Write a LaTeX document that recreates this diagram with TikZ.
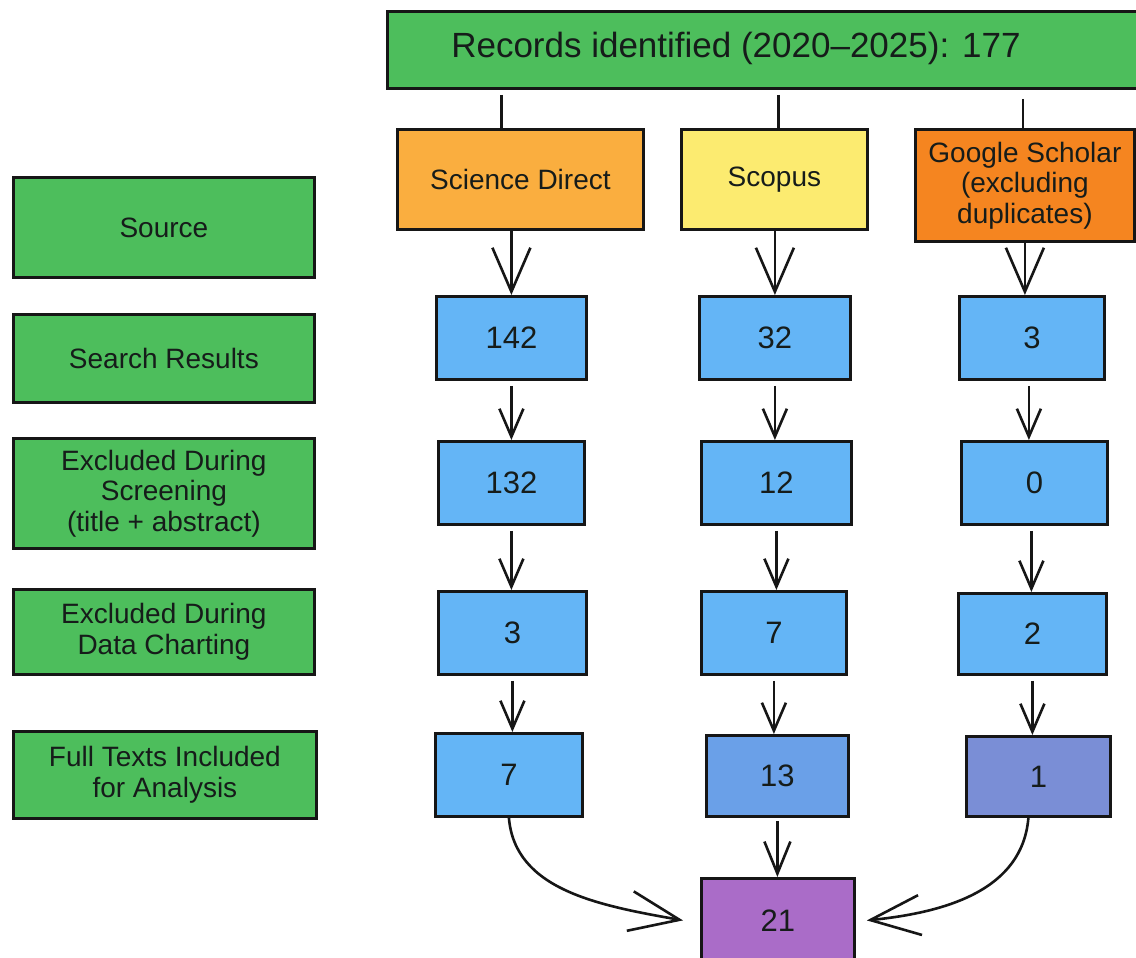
\documentclass[tikz,border=0pt]{standalone}
\usepackage{fontspec}
\setmainfont{Liberation Sans}
\usetikzlibrary{arrows.meta,calc}
\definecolor{gbox}{RGB}{77,190,92}
\definecolor{sdc}{RGB}{250,174,63}
\definecolor{scc}{RGB}{252,235,112}
\definecolor{gsc}{RGB}{245,133,32}
\definecolor{bl}{RGB}{100,181,246}
\definecolor{blb}{RGB}{106,160,232}
\definecolor{blc}{RGB}{122,142,214}
\definecolor{pur}{RGB}{170,108,200}
\definecolor{edge}{RGB}{22,22,22}
\definecolor{txt}{RGB}{22,28,26}
\begin{document}
\begin{tikzpicture}[x=1pt,y=-1pt,
  box/.style={draw=edge, line width=2.8pt, inner sep=0pt, anchor=north west,
    align=center, text=txt, font=\fontsize{28}{30.5}\selectfont},
  lab/.style={box, fill=gbox},
  num/.style={box, fill=bl, font=\fontsize{31}{34}\selectfont},
  conn/.style={line width=2.6pt, draw=edge},
  arr/.style={conn, shorten <=5pt, -{Straight Barb[length=28pt,width=24pt]}},
  bigarr/.style={conn, -{Straight Barb[length=44pt,width=38pt]}},
  hugearr/.style={conn, -{Straight Barb[length=50pt,width=40pt]}},
]
\useasboundingbox (0,0) rectangle (1136,958);
\fill[white] (0,0) rectangle (1136,958);

% top box
\node[lab, minimum width=760pt, minimum height=77pt] (top) at (386,10) {};
\node[text=txt, font=\fontsize{35}{38}\selectfont] (toplab) at (736,48) {Records identified (2020–2025): 177};

% sources
\node[box, fill=sdc, minimum width=246pt, minimum height=100pt] (sd) at (396,128) {Science Direct};
\node[box, fill=scc, minimum width=186pt, minimum height=100pt] (sc) at (680,128) {Scopus};
\node[box, fill=gsc, minimum width=219pt, minimum height=112pt] (gs) at (914,128) {Google Scholar\\(excluding\\duplicates)};

% left labels
\node[lab, minimum width=301pt, minimum height=100pt] (l1) at (12,176) {Source};
\node[lab, minimum width=301pt, minimum height=88pt] (l2) at (12,313) {Search Results};
\node[lab, minimum width=301pt, minimum height=110pt] (l3) at (12,437) {Excluded During\\Screening\\(title + abstract)};
\node[lab, minimum width=301pt, minimum height=85pt] (l4) at (12,588) {Excluded During\\Data Charting};
\node[lab, minimum width=303pt, minimum height=87pt] (l5) at (12,730) {Full Texts Included\\for Analysis};

% number boxes
\node[num, minimum width=150pt, minimum height=83pt] (a1) at (435,295) {142};
\node[num, minimum width=151pt, minimum height=83pt] (b1) at (698,295) {32};
\node[num, minimum width=145pt, minimum height=83pt] (c1) at (958,295) {3};
\node[num, minimum width=146pt, minimum height=83pt] (a2) at (437,440) {132};
\node[num, minimum width=150pt, minimum height=83pt] (b2) at (700,440) {12};
\node[num, minimum width=146pt, minimum height=83pt] (c2) at (960,440) {0};
\node[num, minimum width=148pt, minimum height=83pt] (a3) at (437,590) {3};
\node[num, minimum width=145pt, minimum height=83pt] (b3) at (700,590) {7};
\node[num, minimum width=148pt, minimum height=81pt] (c3) at (957,592) {2};
\node[num, minimum width=147pt, minimum height=83pt] (a4) at (434,732) {7};
\node[num, fill=blb, minimum width=142pt, minimum height=81pt] (b4) at (705,734) {13};
\node[num, fill=blc, minimum width=144pt, minimum height=80pt] (c4) at (965,735) {1};
\node[num, fill=pur, minimum width=153pt, minimum height=84pt] (f) at (700,877) {21};

% top lines
\draw[conn] ([xshift=-19pt,yshift=-5pt]top.south -| sd.north) -- ([xshift=-19pt]sd.north);
\draw[conn] ([xshift=4pt,yshift=-5pt]top.south -| sc.north) -- ([xshift=4pt]sc.north);
\draw[conn] ([xshift=-2pt,yshift=-9pt]top.south -| gs.north) -- ([xshift=-2pt]gs.north);

% source to search results
\draw[bigarr] (sd.south -| a1.north) -- (a1.north);
\draw[bigarr] (sc.south -| b1.north) -- (b1.north);
\draw[bigarr] (gs.south) -- (gs.south |- c1.north);

% column arrows
\draw[arr] (a1.south) -- (a1.south |- a2.north);
\draw[arr] (a2.south) -- (a2.south |- a3.north);
\draw[arr] (a3.south) -- (a3.south |- a4.north);
\draw[arr] (b1.south) -- (b1.south |- b2.north);
\draw[arr] (b2.south) -- (b2.south |- b3.north);
\draw[arr] (b3.south) -- (b3.south |- b4.north);
\draw[arr] ([xshift=-3pt]c1.south) -- ([xshift=-3pt]c1.south |- c2.north);
\draw[arr] ([xshift=-3pt]c2.south) -- ([xshift=-3pt]c2.south |- c3.north);
\draw[arr] (c3.south) -- (c3.south |- c4.north);
\draw[conn, shorten <=3pt, -{Straight Barb[length=32pt,width=26pt]}] (b4.south) -- (b4.south |- f.north);

% curved arrows
\draw[hugearr] (a4.south) .. controls +(6,72) and +(-85,-15) .. ([xshift=-17pt]f.west);
\draw[hugearr] ([xshift=-10pt]c4.south) .. controls +(-6,72) and +(80,-8) .. ([xshift=11pt]f.east);
\end{tikzpicture}
\end{document}
